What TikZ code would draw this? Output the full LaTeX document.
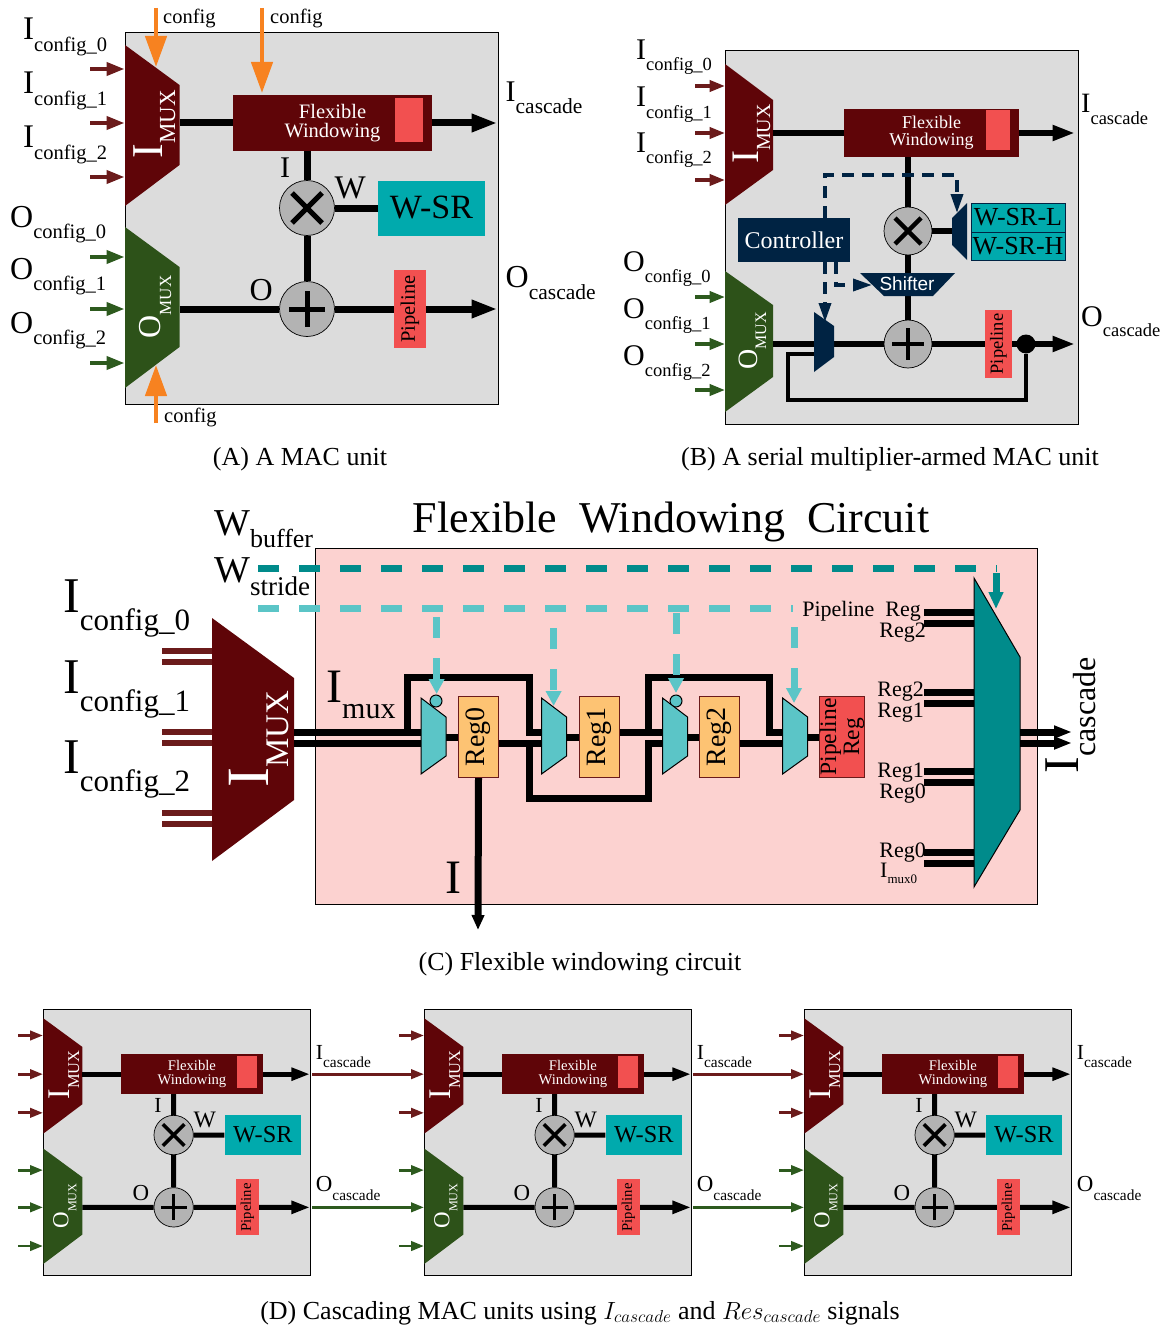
\documentclass[tikz,border=0pt]{standalone}
\usepackage{fontspec}
\setmainfont{Liberation Serif}
\newfontfamily\shiftfont{Liberation Sans}
\usepackage{tikz}
\usetikzlibrary{
  arrows.meta,
  shapes.geometric,
  calc
}
\definecolor{macgray}{RGB}{220, 220, 220}
\definecolor{imuxred}{RGB}{95, 5, 8}
\definecolor{omuxgreen}{RGB}{45, 82, 25}
\definecolor{stubred}{RGB}{107, 27, 27}
\definecolor{stubgreen}{RGB}{45, 90, 30}
\definecolor{wsrteal}{RGB}{0, 170, 173}
\definecolor{pipered}{RGB}{242, 80, 80}
\definecolor{cfgorange}{RGB}{247, 130, 32}
\definecolor{ctrlnavy}{RGB}{0, 35, 67}
\definecolor{dashteal}{RGB}{0, 139, 139}
\definecolor{lightteal}{RGB}{91, 197, 199}
\definecolor{regorange}{RGB}{253, 195, 115}
\definecolor{fwpink}{RGB}{252, 210, 208}
\definecolor{symgray}{RGB}{179, 179, 179}
\newcommand{\fsz}[1]{\fontsize{#1}{#1}\selectfont}
\newcommand{\sublbl}[5]{{\fsz{#2}#1}\raisebox{-#5pt}{\fsz{#4}#3}}
\def\ws{1}
\tikzset{
  macbox/.style = {draw=black, line width=1pt, fill=macgray, anchor=north west,
    inner sep=0pt},
  fwbox/.style = {fill=imuxred, text=white, align=center, inner sep=0pt,
    font=\fontsize{20.5}{19.5}\selectfont},
  regpatch/.style = {fill=pipered, inner sep=0pt},
  wsrbox/.style = {fill=wsrteal, inner sep=0pt},
  pipebox/.style = {fill=pipered, rotate=90, inner sep=0pt},
  symnode/.style = {circle, draw=black, line width=0.7pt, fill=symgray, inner sep=0pt},
  symline/.style = {line width=5*\ws pt, draw=black},
  wire/.style = {draw=black, line width=7*\ws pt},
  wirearr/.style = {wire, -{Triangle[length=26pt, width=17pt, scale=\ws]}},
  stubi/.style = {draw=stubred, line width=4*\ws pt,
    -{Triangle[length=18pt, width=13pt, scale=\ws]}},
  stubo/.style = {draw=stubgreen, line width=4*\ws pt,
    -{Triangle[length=18pt, width=13pt, scale=\ws]}},
  cfgarrow/.style = {draw=cfgorange, line width=4.5pt,
    -{Triangle[length=31pt, width=21pt]}},
  lbl/.style = {anchor=base west, inner sep=0pt},
  muxlbl/.style = {anchor=base, rotate=90, inner sep=0pt, text=white},
  ctrldash/.style = {draw=ctrlnavy, line width=3.5pt, dash pattern=on 12pt off 8pt,
    -{Triangle[length=19pt, width=12pt]}},
  cmux/.style = {draw=black, line width=1pt, fill=lightteal},
  regcell/.style = {draw=stubred, line width=1pt, fill=regorange, rotate=90,
    minimum width=81, minimum height=40, inner sep=0pt, font=\fsz{28}},
  lightdash/.style = {draw=lightteal, line width=7pt, dash pattern=on 21pt off 20pt},
  lightdrop/.style = {lightdash, -{Triangle[length=15pt, width=15pt]}},
  busbar/.style = {draw=black, line width=7pt},
  cinstub/.style = {draw=stubred, line width=6pt},
  regtag/.style = {anchor=base east, inner sep=0pt, font=\fsz{22}},
  caption/.style = {anchor=base, inner sep=0pt, font=\fsz{26}},
}
\newcommand{\macunit}[4]{%
  \begin{scope}[shift={(#2,#3)}, scale=#4, transform shape]
    \def\ws{#4}
    \node[macbox, minimum width=373, minimum height=372] (#1box) at (0,0) {};
    \fill[imuxred] (0.5,13) -- (55,53) -- (55,133) -- (0.5,174) -- cycle;
    \fill[omuxgreen] (0.5,195) -- (55,235) -- (55,315) -- (0.5,356) -- cycle;
    \node[muxlbl] (#1imux) at (37.5,92) {\sublbl{I}{44}{MUX}{23}{13}};
    \node[muxlbl] (#1omux) at (35.5,275) {\sublbl{O}{32}{MUX}{17}{11}};
    \coordinate (#1imuxo) at (55,91);
    \coordinate (#1omuxo) at (55,277);
    \coordinate (#1iout) at (373,91);
    \coordinate (#1oout) at (373,277);
    \foreach \k/\yy in {0/37,1/91,2/145} {
      \coordinate (#1ia\k) at (-34.5,\yy);
      \coordinate (#1ib\k) at (0,\yy);
      \draw[stubi] (#1ia\k) -- (#1ib\k);
    }
    \foreach \k/\yy in {0/225,1/277,2/331} {
      \coordinate (#1oa\k) at (-34.5,\yy);
      \coordinate (#1ob\k) at (0,\yy);
      \draw[stubo] (#1oa\k) -- (#1ob\k);
    }
    \node[fwbox, minimum width=199, minimum height=55] (#1fw) at (208,91)
      {Flexible\\Windowing};
    \node[regpatch, minimum width=28, minimum height=44] (#1fwreg) at (284.5,88) {};
    \node[wsrbox, minimum width=107, minimum height=55, font=\fsz{34}] (#1wsr) at (307,176) {W-SR};
    \node[pipebox, minimum width=78, minimum height=32, font=\fsz{20.5}] (#1pipe) at (285.5,277) {Pipeline};
    \node[symnode, minimum size=55] (#1mult) at (182.5,176) {};
    \node[symnode, minimum size=55] (#1add) at (182.5,277) {};
    \draw[symline] (#1mult.center)+(-15,-15) -- +(15,15);
    \draw[symline] (#1mult.center)+(-15,15) -- +(15,-15);
    \draw[symline] (#1add.center)+(-18,0) -- +(18,0);
    \draw[symline] (#1add.center)+(0,-18) -- +(0,18);

    \draw[wire] (#1imuxo) -- (#1fw);
    \draw[wirearr] (#1fw) -- (#1iout);
    \draw[wire] (#1fw.south -| #1mult) -- (#1mult);
    \draw[wire] (#1mult) -- (#1add);
    \draw[wire] (#1mult) -- (#1wsr);
    \draw[wire] (#1omuxo) -- (#1add);
    \draw[wire] (#1add) -- (#1pipe);
    \draw[wirearr] (#1pipe) -- (#1oout);

    \node[lbl, font=\fsz{30}] (#1ilbl) at (155.5,145) {I};
    \node[lbl, font=\fsz{33}] (#1wlbl) at (210,166) {W};
    \node[lbl, font=\fsz{32}] (#1olbl) at (125,268) {O};
    \node[lbl] (#1icas) at (381,70) {\sublbl{I}{30}{cascade}{21.5}{12}};
    \node[lbl] (#1ocas) at (381,255) {\sublbl{O}{32}{cascade}{21.5}{12}};
  \end{scope}%
}

\begin{document}
\begin{tikzpicture}[x=1pt, y=-1pt]
  \useasboundingbox (0,0) rectangle (1166,1327);

  % panel A
  \macunit{ua}{124.5}{32}{1}
  \foreach \k/\yy in {0/40,1/94,2/147}
    \node[lbl] (aicfg\k) at (23,\yy) {\sublbl{I}{33}{config\_\k}{20.5}{12}};
  \foreach \k/\yy in {0/227,1/279,2/333}
    \node[lbl] (aocfg\k) at (10,\yy) {\sublbl{O}{32}{config\_\k}{20.5}{11}};
  \coordinate (cfga) at (156,8);
  \coordinate (cfgat) at (156,67);
  \coordinate (cfgb) at (262,8);
  \coordinate (cfgbt) at (262,93);
  \coordinate (cfgc) at (156,423);
  \coordinate (cfgct) at (156,365);
  \draw[cfgarrow] (cfga) -- (cfgat);
  \draw[cfgarrow] (cfgb) -- (cfgbt);
  \draw[cfgarrow] (cfgc) -- (cfgct);
  \node[lbl, font=\fsz{20.5}] (cfgatxt) at (163,24) {config};
  \node[lbl, font=\fsz{20.5}] (cfgbtxt) at (270,24) {config};
  \node[lbl, font=\fsz{20.5}] (cfgctxt) at (164,422) {config};
  \node[caption] (capa) at (300,465) {(A) A MAC unit};

  % panel B
  \begin{scope}
    \def\ws{.86}
    \node[macbox, minimum width=353, minimum height=374] (bbox) at (725,50) {};
    \fill[imuxred] (725,64) -- (773,100) -- (773,170) -- (725,205) -- cycle;
    \fill[omuxgreen] (725,271) -- (773,305) -- (773,377) -- (725,412) -- cycle;
    \node[muxlbl] (bimux) at (758,134) {\sublbl{I}{39}{MUX}{20}{12}};
    \node[muxlbl] (bomux) at (757,341) {\sublbl{O}{28}{MUX}{16}{9}};
    \foreach \k/\yy in {0/86,1/133,2/180} {
      \coordinate (bia\k) at (695,\yy);
      \coordinate (bib\k) at (725,\yy);
      \draw[stubi] (bia\k) -- (bib\k);
    }
    \foreach \k/\yy in {0/297,1/344,2/390} {
      \coordinate (boa\k) at (695,\yy);
      \coordinate (bob\k) at (725,\yy);
      \draw[stubo] (boa\k) -- (bob\k);
    }
    \foreach \k/\yy in {0/60,1/107,2/153}
      \node[lbl] (bicfg\k) at (636,\yy) {\sublbl{I}{30}{config\_\k}{18.5}{11}};
    \foreach \k/\yy in {0/271,1/318,2/365}
      \node[lbl] (bocfg\k) at (623,\yy) {\sublbl{O}{30}{config\_\k}{18.5}{11}};

    \node[fwbox, minimum width=175, minimum height=48,
          font=\fontsize{18}{17}\selectfont] (bfw) at (931.5,133) {Flexible\\Windowing};
    \node[regpatch, minimum width=24, minimum height=40] (bfwreg) at (998,130) {};
    \node[symnode, minimum size=48] (bmult) at (908,231) {};
    \node[symnode, minimum size=48] (badd) at (908,344) {};
    \draw[symline] (bmult.center)+(-13,-13) -- +(13,13);
    \draw[symline] (bmult.center)+(-13,13) -- +(13,-13);
    \draw[symline] (badd.center)+(-16,0) -- +(16,0);
    \draw[symline] (badd.center)+(0,-16) -- +(0,16);
    \node[wsrbox, draw=ctrlnavy, line width=.7pt, minimum width=94, minimum height=29,
          font=\fsz{26}] (bwsrl) at (1018,217.5) {W-SR-L};
    \node[wsrbox, draw=ctrlnavy, line width=.7pt, minimum width=94, minimum height=28,
          font=\fsz{26}] (bwsrh) at (1018,246) {W-SR-H};
    \node[fill=ctrlnavy, text=white, minimum width=112, minimum height=44, inner sep=0pt,
          font=\fsz{24}] (ctrl) at (794,240) {Controller};
    \node[pipebox, minimum width=68, minimum height=27, font=\fsz{18.5}] (bpipe) at (998.5,344) {Pipeline};
    \node[circle, fill=black, minimum size=19, inner sep=0pt] (bdot) at (1026,344) {};

    \coordinate (bimuxo) at (773,133);
    \coordinate (bomuxo) at (773,344);
    \coordinate (biout) at (1075,133);
    \coordinate (boout) at (1075,344);
    \coordinate (wmuxin) at (953,231);
    \coordinate (shfttop) at (908,275);
    \coordinate (shftbot) at (908,294);
    \coordinate (lmuxin) at (815,344);
    \coordinate (lmuxout) at (833,344);
    \coordinate (fbcorner) at (787.5,400);
    \coordinate (lmuxfb) at (815,354);

    \draw[wire] (bimuxo) -- (bfw);
    \draw[wirearr] (bfw) -- (biout);
    \draw[wire] (bfw.south -| bmult) -- (bmult);
    \draw[wire] (bmult) -- (shfttop);
    \draw[wire] (shftbot) -- (badd);
    \draw[wire] (bmult) -- (wmuxin);
    \draw[wire] (bomuxo) -- (lmuxin);
    \draw[wire] (lmuxout) -- (badd);
    \draw[wire] (badd) -- (bpipe);
    \draw[wirearr] (bpipe) -- (boout);
    \draw[draw=black, line width=4pt] (bdot) |- (fbcorner) |- (lmuxfb);

    \fill[ctrlnavy] (952,218) -- (967,203) -- (967,260) -- (952,245) -- cycle;
    \fill[ctrlnavy] (814,312) -- (834,326) -- (834,357) -- (814,372) -- cycle;
    \fill[ctrlnavy] (860,273) -- (955,273) -- (933,296) -- (884,296) -- cycle;
    \node[inner sep=0pt, text=white, font=\shiftfont\fsz{19}] (shifter) at (907,284) {Shifter};

    \coordinate (dashturn) at (825,175);
    \coordinate (dashend) at (957,213);
    \coordinate (lmuxtop) at (825,322);
    \coordinate (shftin) at (872,285);
    \coordinate (ctrlout) at (836,262);
    \draw[ctrldash] (ctrl.north -| dashturn) -- (dashturn) -| (dashend);
    \draw[ctrldash] (ctrl.south -| dashturn) -- (lmuxtop);
    \draw[ctrldash] (ctrlout) |- (shftin);

    \node[lbl] (bicas) at (1081,113) {\sublbl{I}{28}{cascade}{18.5}{12}};
    \node[lbl] (bocas) at (1081,326) {\sublbl{O}{30}{cascade}{18.5}{10}};
  \end{scope}
  \node[caption] (capb) at (890,465) {(B) A serial multiplier-armed MAC unit};

  % panel C
  \node[anchor=base, inner sep=0pt, font=\fsz{44}] (ctitle) at (671,532) {Flexible~ Windowing~ Circuit};
  \node[macbox, fill=fwpink, minimum width=722, minimum height=356] (cbox) at (314.5,548) {};
  \node[lbl] (wbuf) at (214,535) {\sublbl{W}{38}{buffer}{26}{12}};
  \node[lbl] (wstr) at (214,582) {\sublbl{W}{38}{stride}{27}{13}};
  \foreach \k/\yy in {0/612,1/693,2/773}
    \node[lbl] (cicfg\k) at (63,\yy) {\sublbl{I}{50}{config\_\k}{31}{18}};
  \foreach \k/\yy in {0/651,1/732,2/813} {
    \coordinate (csa\k) at (162,\yy);
    \coordinate (csb\k) at (212,\yy);
    \coordinate (csc\k) at (162,\yy+11);
    \coordinate (csd\k) at (212,\yy+11);
    \draw[cinstub] (csa\k) -- (csb\k);
    \draw[cinstub] (csc\k) -- (csd\k);
  }
  \fill[imuxred] (212,618) -- (294,678) -- (294,800) -- (212,861) -- cycle;
  \node[muxlbl] (cimux) at (268,739) {\sublbl{I}{60}{MUX}{33}{20}};

  \node[regcell] (reg0) at (478.5,737) {Reg0};
  \node[regcell] (reg1) at (599,737) {Reg1};
  \node[regcell] (reg2) at (719,737) {Reg2};
  \node[regcell, fill=pipered, minimum height=43, align=center,
        font=\fontsize{23.5}{23}\selectfont] (pipereg) at (842,737) {Pipeline\\Reg};

  \coordinate (imuxa) at (294,732);
  \coordinate (imuxb) at (294,743);
  \foreach \nm/\xx in {0/421,1/541.5,2/662.5,3/782.6} {
    \coordinate (m\nm a) at (\xx+2,732);
    \coordinate (m\nm b) at (\xx+2,743);
    \coordinate (m\nm o) at (\xx+23,737);
  }
  \coordinate (ta0) at (407.6,732);
  \coordinate (ta1) at (529.5,677);
  \coordinate (lb0) at (529.5,743);
  \coordinate (lb1) at (648.6,798);
  \coordinate (tc0) at (648.6,732);
  \coordinate (tc1) at (769,677);
  \coordinate (itip) at (478,930);

  \draw[wire] (imuxa) -- (m0a);
  \draw[wire] (imuxb) -- (m0b);
  \draw[wire] (ta0) |- (ta1) |- (m1a);
  \draw[wire] (m0o) -- (reg0);
  \draw[wire] (reg0.south |- m1b) -- (m1b);
  \draw[wire] (lb0) |- (lb1) |- (m2b);
  \draw[wire] (m1o) -- (reg1);
  \draw[wire] (reg1.south |- m2a) -- (m2a);
  \draw[wire] (tc0) |- (tc1) |- (m3a);
  \draw[wire] (m2o) -- (reg2);
  \draw[wire] (reg2.south |- m3b) -- (m3b);
  \draw[wire] (m3o) -- (pipereg);
  \draw[wire, -{Triangle[length=15pt, width=12pt]}] (reg0.west) -- (itip);

  \node[circle, cmux, minimum size=12, inner sep=0pt] (sel0) at (436,701) {};
  \node[circle, cmux, minimum size=12, inner sep=0pt] (sel2) at (676,701) {};
  \foreach \xx in {421,541.5,662.5,782.6}
    \draw[cmux] (\xx,698) -- ++(25,19) -- ++(0,39) -- ++(-25,18) -- cycle;

  % select lines
  \coordinate (dka) at (258,568);
  \coordinate (dkb) at (997,568);
  \coordinate (dkc) at (996,573);
  \coordinate (dkd) at (996,609);
  \coordinate (lta) at (258,608);
  \coordinate (ltb) at (793,608);
  \draw[draw=dashteal, line width=7pt, dash pattern=on 21pt off 20pt] (dka) -- (dkb);
  \draw[draw=dashteal, line width=7pt, -{Triangle[length=17pt, width=14pt]}] (dkc) -- (dkd);
  \draw[lightdash] (lta) -- (ltb);
  \foreach \k/\xx/\ya/\yb in {0/436.6/617/694,1/553.6/628/706,2/676/613/693,3/794/627/703} {
    \coordinate (dr\k) at (\xx,\ya);
    \coordinate (dt\k) at (\xx,\yb);
    \draw[lightdrop] (dr\k) -- (dt\k);
  }

  % output mux
  \foreach \k/\yy in {0/612,1/692,2/771,3/852} {
    \coordinate (oba\k) at (924,\yy);
    \coordinate (obb\k) at (975,\yy);
    \coordinate (obc\k) at (924,\yy+11);
    \coordinate (obd\k) at (975,\yy+11);
    \draw[busbar] (oba\k) -- (obb\k);
    \draw[busbar] (obc\k) -- (obd\k);
  }
  \draw[cmux, fill=dashteal] (974,578) -- (1020,657) -- (1020,810) -- (974,887) -- cycle;
  \coordinate (oca) at (1020,732);
  \coordinate (ocb) at (1072,732);
  \coordinate (occ) at (1020,743);
  \coordinate (ocd) at (1072,743);
  \draw[wire, -{Triangle[length=18pt, width=12pt]}] (oca) -- (ocb);
  \draw[wire, -{Triangle[length=18pt, width=12pt]}] (occ) -- (ocd);

  \node[lbl] (imuxlbl) at (326,702) {\sublbl{I}{48}{mux}{30}{16}};
  \node[lbl, font=\fsz{48}] (ilblc) at (445,893) {I};
  \node[anchor=base, rotate=90, inner sep=0pt] (icasc) at (1078,715) {\sublbl{I}{50}{cascade}{32}{17}};
  \node[regtag] (tagp) at (921,616) {Pipeline~ Reg};
  \node[regtag] (tag2a) at (926,637) {Reg2};
  \node[regtag] (tag2b) at (924,696) {Reg2};
  \node[regtag] (tag1a) at (924,717) {Reg1};
  \node[regtag] (tag1b) at (924,777) {Reg1};
  \node[regtag] (tag0a) at (926,798) {Reg0};
  \node[regtag] (tag0b) at (926,857) {Reg0};
  \node[lbl] (tagm) at (880,877) {\sublbl{I}{22}{mux0}{13}{6}};
  \node[caption] (capc) at (580,970) {(C) Flexible windowing circuit};

  % panel D
  \foreach \mac/\xx in {da/43,db/424,dc/804} {
    \macunit{\mac}{\xx}{1009}{.716}
  }
  \draw[draw=stubred, line width=3pt] (daiout) ++(2,0) -- (dbia1);
  \draw[draw=stubred, line width=3pt] (dbiout) ++(2,0) -- (dcia1);
  \draw[draw=stubgreen, line width=3pt] (daoout) ++(2,0) -- (dboa1);
  \draw[draw=stubgreen, line width=3pt] (dboout) ++(2,0) -- (dcoa1);
  \node[caption] (capd) at (580,1319) {(D) Cascading MAC units using $I_{cascade}$ and $Res_{cascade}$ signals};
\end{tikzpicture}
\end{document}
